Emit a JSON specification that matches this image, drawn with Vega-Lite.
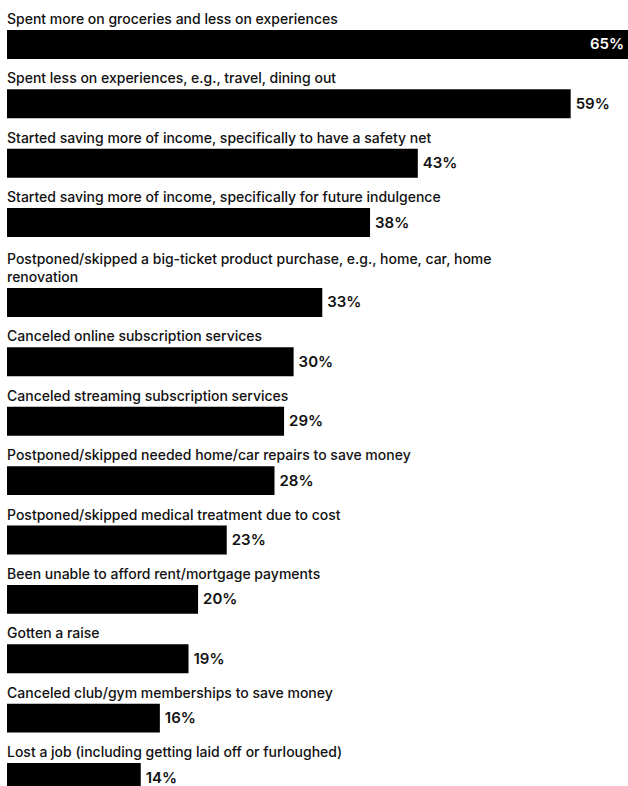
{
  "$schema": "https://vega.github.io/schema/vega-lite/v6.json",
  "padding": {"left": 7, "top": 0, "right": 0, "bottom": 0},
  "background": "white",
  "bounds": "flush",
  "spacing": 21,
  "config": {"view": {"stroke": null}, "concat": {"spacing": 21}},
  "datasets": {
    "rows": [
      {"group": "A", "label": "Spent more on groceries and less on experiences", "value": 65},
      {"group": "A", "label": "Spent less on experiences, e.g., travel, dining out", "value": 59},
      {"group": "A", "label": "Started saving more of income, specifically to have a safety net", "value": 43},
      {"group": "A", "label": "Started saving more of income, specifically for future indulgence", "value": 38},
      {"group": "B", "label": "Postponed/skipped a big-ticket product purchase, e.g., home, car, home\nrenovation", "value": 33},
      {"group": "B", "label": "Canceled online subscription services", "value": 30},
      {"group": "B", "label": "Canceled streaming subscription services", "value": 29},
      {"group": "B", "label": "Postponed/skipped needed home/car repairs to save money", "value": 28},
      {"group": "B", "label": "Postponed/skipped medical treatment due to cost", "value": 23},
      {"group": "B", "label": "Been unable to afford rent/mortgage payments", "value": 20},
      {"group": "B", "label": "Gotten a raise", "value": 19},
      {"group": "B", "label": "Canceled club/gym memberships to save money", "value": 16},
      {"group": "B", "label": "Lost a job (including getting laid off or furloughed)", "value": 14}
    ]
  },
  "vconcat": [
    {
      "width": 621,
      "height": 237,
      "data": {"name": "rows"},
      "transform": [{"filter": "datum.group === 'A'"}, {"calculate": "datum.value + '%'", "as": "pct"}],
      "encoding": {
        "y": {"field": "label", "type": "nominal", "sort": null, "axis": null,
              "scale": {"paddingInner": 0.512, "paddingOuter": 0.2525, "align": 1}},
        "x": {"field": "value", "type": "quantitative", "axis": null, "scale": {"domain": [0, 65], "nice": false}}
      },
      "layer": [
        {"mark": {"type": "bar", "color": "#000000"}},
        {
          "mark": {"type": "text", "align": "left", "baseline": "alphabetic", "dy": -6, "font": "Inter", "fontSize": 14, "fontWeight": 500, "color": "#111111"},
          "encoding": {"x": {"datum": 0}, "y": {"field": "label", "type": "nominal", "sort": null, "bandPosition": 0}, "text": {"field": "label"}}
        },
        {
          "transform": [{"filter": "datum.value < 60"}],
          "mark": {"type": "text", "align": "left", "baseline": "middle", "dx": 5, "font": "Inter", "fontSize": 15, "fontWeight": 600, "color": "#111111"},
          "encoding": {"text": {"field": "pct"}}
        },
        {
          "transform": [{"filter": "datum.value >= 60"}],
          "mark": {"type": "text", "align": "right", "baseline": "middle", "dx": -4, "font": "Inter", "fontSize": 15, "fontWeight": 600, "color": "#ffffff"},
          "encoding": {"text": {"field": "pct"}}
        }
      ]
    },
    {
      "width": 621,
      "height": 534,
      "data": {"name": "rows"},
      "transform": [{"filter": "datum.group === 'B'"}, {"calculate": "datum.value + '%'", "as": "pct"}],
      "encoding": {
        "y": {"field": "label", "type": "nominal", "sort": null, "axis": null,
              "scale": {"paddingInner": 0.512, "paddingOuter": 0.2525, "align": 1}},
        "x": {"field": "value", "type": "quantitative", "axis": null, "scale": {"domain": [0, 65], "nice": false}}
      },
      "layer": [
        {"mark": {"type": "bar", "color": "#000000"}},
        {
          "transform": [{"filter": "indexof(datum.label, '\\n') < 0"}],
          "mark": {"type": "text", "align": "left", "baseline": "alphabetic", "dy": -6, "font": "Inter", "fontSize": 14, "fontWeight": 500, "color": "#111111"},
          "encoding": {"x": {"datum": 0}, "y": {"field": "label", "type": "nominal", "sort": null, "bandPosition": 0}, "text": {"field": "label"}}
        },
        {
          "transform": [{"filter": "indexof(datum.label, '\\n') >= 0"}],
          "mark": {"type": "text", "align": "left", "baseline": "alphabetic", "dy": -24, "font": "Inter", "fontSize": 14, "fontWeight": 500, "lineBreak": "\n", "lineHeight": 18, "color": "#111111"},
          "encoding": {"x": {"datum": 0}, "y": {"field": "label", "type": "nominal", "sort": null, "bandPosition": 0}, "text": {"field": "label"}}
        },
        {
          "mark": {"type": "text", "align": "left", "baseline": "middle", "dx": 5, "font": "Inter", "fontSize": 15, "fontWeight": 600, "color": "#111111"},
          "encoding": {"text": {"field": "pct"}}
        }
      ]
    }
  ]
}
